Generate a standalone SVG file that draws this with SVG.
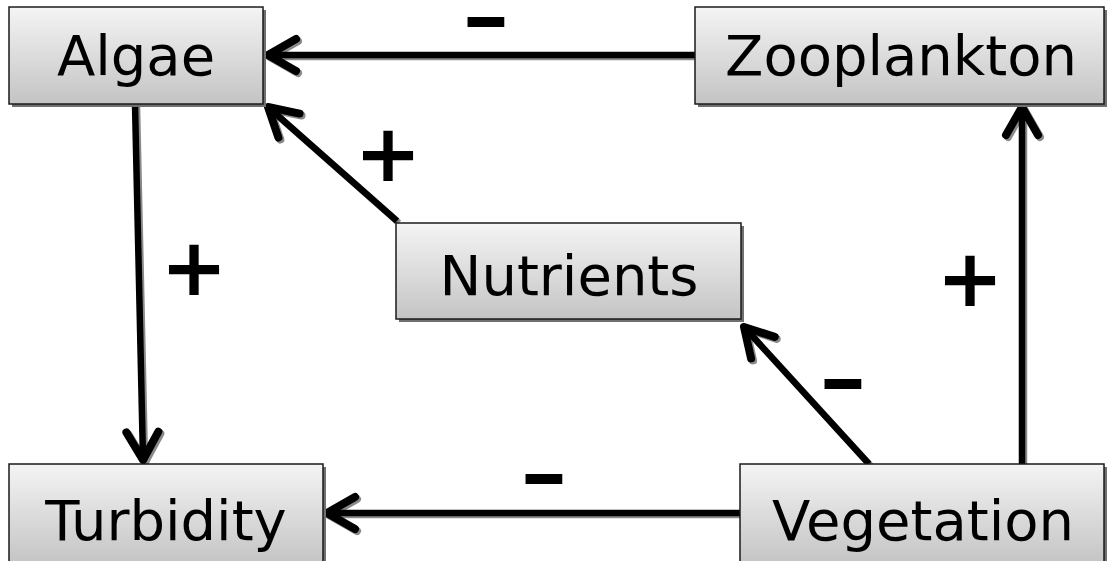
<svg xmlns="http://www.w3.org/2000/svg" width="1109" height="561" viewBox="0 0 1109 561">
<style>
.box{fill:url(#g);stroke:#1a1a1a;stroke-width:1.5}
.sh{fill:#707070}
.lbl{font-family:"DejaVu Sans",Verdana,sans-serif;font-size:56px;fill:#000;text-anchor:middle}
.sign{font-family:"DejaVu Sans",sans-serif;font-weight:bold;fill:#000;text-anchor:middle}
.ln{fill:none;stroke:#000;stroke-width:6.5;marker-end:url(#ah)}
.lns{fill:none;stroke:#8a8a8a;stroke-width:6.5;marker-end:url(#ahs)}
</style>
<defs>
<linearGradient id="g" x1="0" y1="0" x2="0" y2="1">
<stop offset="0" stop-color="#f4f4f4"/>
<stop offset="1" stop-color="#c4c4c4"/>
</linearGradient>
<marker id="ah" markerUnits="userSpaceOnUse" orient="auto" viewBox="-40 -25 50 50" refX="0" refY="0" markerWidth="50" markerHeight="50">
<path d="M-28 -16 L0 0 L-28 16" fill="none" stroke="#000" stroke-width="8" stroke-linecap="round" stroke-linejoin="round"/>
</marker>
<marker id="ahs" markerUnits="userSpaceOnUse" orient="auto" viewBox="-40 -25 50 50" refX="0" refY="0" markerWidth="50" markerHeight="50">
<path d="M-28 -16 L0 0 L-28 16" fill="none" stroke="#8a8a8a" stroke-width="8" stroke-linecap="round" stroke-linejoin="round"/>
</marker>
</defs>
<rect width="1109" height="561" fill="#fff"/>

<g id="connectors">
<g transform="translate(2,2)">
<path class="lns" d="M695 55 L268 55"/>
<path class="lns" d="M397 221 L268 107"/>
<path class="lns" d="M135 104 L143 460"/>
<path class="lns" d="M740 513 L327 513"/>
<path class="lns" d="M869 464 L744 327"/>
<path class="lns" d="M1022 464 L1022 107"/>
</g>
<path class="ln" d="M695 55 L268 55"/>
<path class="ln" d="M397 221 L268 107"/>
<path class="ln" d="M135 104 L143 460"/>
<path class="ln" d="M740 513 L327 513"/>
<path class="ln" d="M869 464 L744 327"/>
<path class="ln" d="M1022 464 L1022 107"/>
<text class="sign" x="0" y="0" font-size="78" transform="translate(486,44) scale(1.2,1)">–</text>
<text class="sign" x="388" y="181" font-size="80">+</text>
<text class="sign" x="194" y="295" font-size="80">+</text>
<text class="sign" x="970" y="306" font-size="80">+</text>
<text class="sign" x="0" y="0" font-size="78" transform="translate(843,406) scale(1.2,1)">–</text>
<text class="sign" x="0" y="0" font-size="78" transform="translate(544,501) scale(1.2,1)">–</text>
</g>

<g id="algae">
<rect class="sh" x="12" y="10" width="254" height="97"/>
<rect class="box" x="9" y="7" width="254" height="97"/>
<text class="lbl" x="136" y="75">Algae</text>
</g>
<g id="zooplankton">
<rect class="sh" x="698" y="10" width="409" height="97"/>
<rect class="box" x="695" y="7" width="409" height="97"/>
<text class="lbl" x="901" y="75">Zooplankton</text>
</g>
<g id="nutrients">
<rect class="sh" x="399" y="226" width="345" height="96"/>
<rect class="box" x="396" y="223" width="345" height="96"/>
<text class="lbl" x="569" y="295">Nutrients</text>
</g>
<g id="turbidity">
<rect class="sh" x="12" y="467" width="314" height="100"/>
<rect class="box" x="9" y="464" width="314" height="100"/>
<text class="lbl" x="166" y="540">Turbidity</text>
</g>
<g id="vegetation">
<rect class="sh" x="743" y="467" width="364" height="100"/>
<rect class="box" x="740" y="464" width="364" height="100"/>
<text class="lbl" x="923" y="540">Vegetation</text>
</g>
</svg>
